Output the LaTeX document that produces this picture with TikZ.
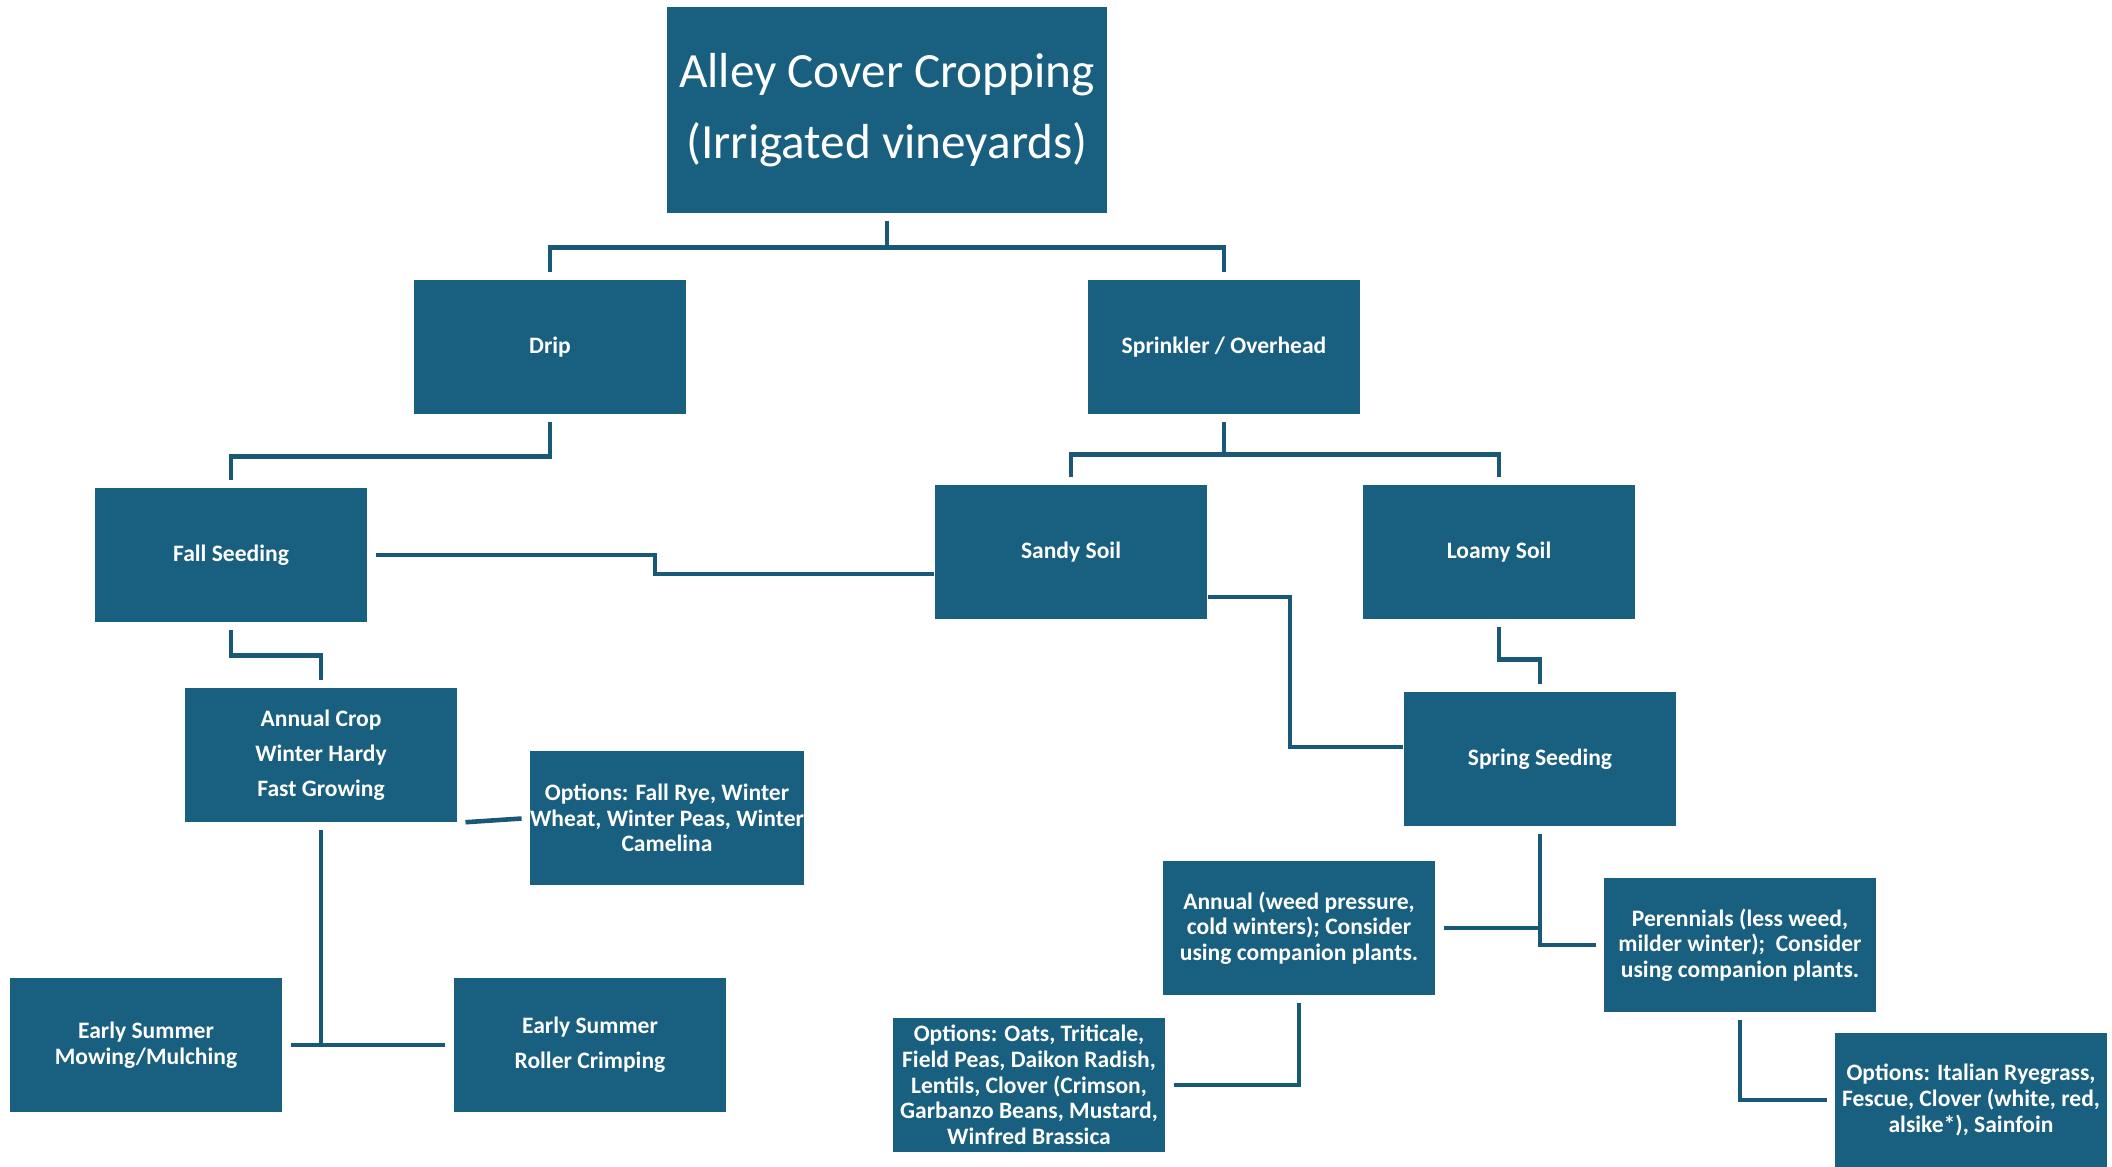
\documentclass[tikz,border=0pt]{standalone}
\usepackage{fontspec}
\setmainfont{Carlito}
\usetikzlibrary{calc}
\definecolor{boxblue}{HTML}{185F80}
\definecolor{linkblue}{HTML}{1A5878}

\begin{document}
\begin{tikzpicture}
    [
    x=0.01cm, y=-0.01cm,
    box/.style={rectangle,fill=boxblue,text=white,inner sep=0pt,minimum width=2.72cm,minimum height=1.34cm,align=center,font=\bfseries\fontsize{6.7}{7.3}\selectfont},
    titlebox/.style={box,minimum width=4.4cm,minimum height=2.06cm,font=\fontsize{14}{20}\selectfont},
    link/.style={draw=linkblue,line width=1.3pt,shorten <=2.2pt,shorten >=2.2pt}
    ]
    \useasboundingbox (0,0) rectangle (2112,1167);

    \node (title) at (887,110) [titlebox] {Alley Cover Cropping\\(Irrigated vineyards)};
    \node (drip) at (550,347) [box] {Drip};
    \node (sprinkler) at (1224,347) [box] {Sprinkler / Overhead};
    \node (fall) at (231,555) [box] {Fall Seeding};
    \node (sandy) at (1071,552) [box] {Sandy Soil};
    \node (loamy) at (1499,552) [box] {Loamy Soil};
    \node (crop) at (321,755) [box] {Annual Crop\\[2.7pt]Winter Hardy\\[2.7pt]Fast Growing};
    \node (rye) at (667,818) [box] {Options: Fall Rye, Winter\\Wheat, Winter Peas, Winter\\Camelina};
    \node (spring) at (1540,759) [box] {Spring Seeding};
    \node (annual) at (1299,928) [box] {Annual (weed pressure,\\cold winters); Consider\\using companion plants.};
    \node (perennial) at (1740,945) [box] {Perennials (less weed,\\milder winter);~ Consider\\using companion plants.};
    \node (mow) at (146,1045) [box] {Early Summer\\Mowing/Mulching};
    \node (roller) at (590,1045) [box] {Early Summer\\[2.7pt]Roller Crimping};
    \node (oats) at (1029,1085) [box] {Options: Oats, Triticale,\\Field Peas, Daikon Radish,\\Lentils, Clover (Crimson,\\Garbanzo Beans, Mustard,\\Winfred Brassica};
    \node (italian) at (1971,1100) [box] {Options: Italian Ryegrass,\\Fescue, Clover (white, red,\\alsike*), Sainfoin};

    \draw [link] (title.south) -- ++(0,34) -| (drip.north);
    \draw [link] (title.south) -- ++(0,34) -| (sprinkler.north);
    \draw [link] (drip.south) -- ++(0,42) -| (fall.north);
    \draw [link] (sprinkler.south) -- ++(0,40) -| (sandy.north);
    \draw [link] (sprinkler.south) -- ++(0,40) -| (loamy.north);
    \draw [link] (fall.south) -- ++(0,33) -| (crop.north);
    \draw [link] (loamy.south) -- ++(0,40) -| (spring.north);
    \draw [link,shorten >=0pt] (fall.east) -- ++(287,0) |- ($(sandy.west)+(0,22)$);
    \draw [link,shorten <=0pt,shorten >=0pt] ($(sandy.east)+(0,45)$) -- ++(82,0) |- ($(spring.west)+(0,-12)$);
    \draw [link] (spring.south) |- (annual.east);
    \draw [link] (spring.south) |- (perennial.west);
    \draw [link] (annual.south) |- (oats.east);
    \draw [link] (perennial.south) |- (italian.west);
    \draw [link] (crop.south) |- (mow.east);
    \draw [link] (crop.south) |- (roller.west);
    \draw [link] (crop.south east) -- (rye.west);
\end{tikzpicture}
\end{document}
